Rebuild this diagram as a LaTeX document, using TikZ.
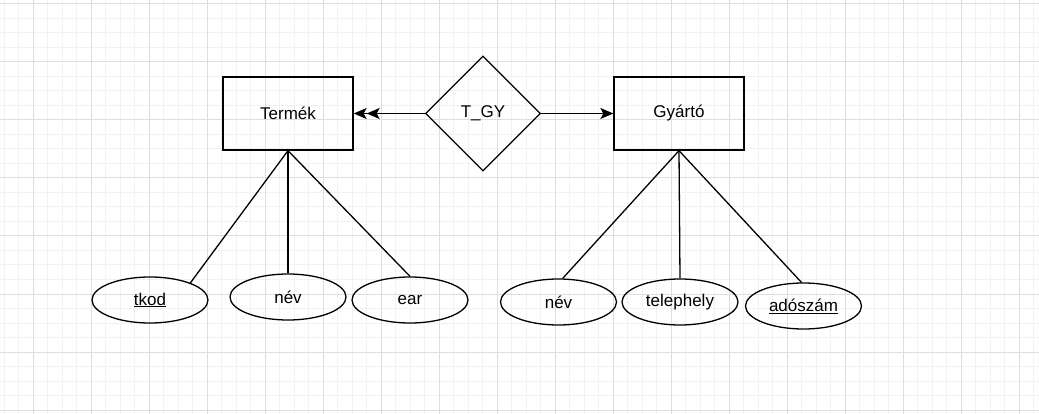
\documentclass[tikz,border=0pt]{standalone}
\usepackage{fontspec}
\setmainfont{Liberation Sans}
\usetikzlibrary{shapes.geometric,arrows.meta}
\definecolor{gridminor}{RGB}{242,242,242}
\definecolor{gridmajor}{RGB}{222,222,222}
\begin{document}
\begin{tikzpicture}[x=1pt,y=-1pt,
        font=\fontsize{17}{20}\selectfont,
        entity/.style={draw,line width=1.3pt,minimum width=130pt,minimum height=73pt,inner sep=0pt},
        relation/.style={draw,diamond,aspect=1,line width=1.3pt,minimum width=115pt,minimum height=115pt,inner sep=0pt},
        attribute/.style={draw,ellipse,line width=1.3pt,minimum width=116pt,minimum height=46pt,inner sep=0pt},
        link/.style={line width=1.3pt},
        one/.style={-{Stealth[length=13pt,width=11pt,inset=3pt]}},
        many/.style={-{Stealth[length=13pt,width=11pt,inset=3pt]Stealth[length=13pt,width=11pt,inset=3pt]}}]
        \useasboundingbox (0,0) rectangle (1039,414);
        % grid
        \foreach \gx in {0,...,71} \draw[gridminor,line width=1pt] (4+14.5*\gx,0) -- (4+14.5*\gx,414);
        \foreach \gy in {0,...,28} \draw[gridminor,line width=1pt] (0,4+14.5*\gy) -- (1039,4+14.5*\gy);
        \foreach \gx in {0,...,17} \draw[gridmajor,line width=1pt] (33+58*\gx,0) -- (33+58*\gx,414);
        \foreach \gy in {0,...,7} \draw[gridmajor,line width=1pt] (0,4+58*\gy) -- (1039,4+58*\gy);
        % nodes
        \node[entity]   (termek) at (288, 113.5) {Termék};
        \node[relation] (tgy)    at (483, 113.5) {T\_GY};
        \node[entity]   (gyarto) at (679, 113.5) {Gyártó};
            \node[attribute] (tkod)      at (150, 300)   {\underline{tkod}};
            \node[attribute] (t-nev)     at (288, 297)   {név};
            \node[attribute] (ear)       at (410, 300)   {ear};
            \node[attribute] (gy-nev)    at (558.5, 302) {név};
            \node[attribute] (telephely) at (680, 302)   {telephely};
            \node[attribute] (adoszam)   at (803.5, 306) {\underline{adószám}};
        % arrows
        \draw[link,many] (tgy) -- (termek);
        \draw[link,one]  (tgy) -- (gyarto);
        \draw[link] (termek.south) -- (tkod.23);
        \draw[link] (termek.south) -- (t-nev.north);
        \draw[link] (termek.south) -- (ear.north);
        \draw[link] (gyarto.south) -- (gy-nev.80);
        \draw[link] (gyarto.south) -- (telephely.north);
        \draw[link] (gyarto.south) -- (adoszam.95);
\end{tikzpicture}
\end{document}
